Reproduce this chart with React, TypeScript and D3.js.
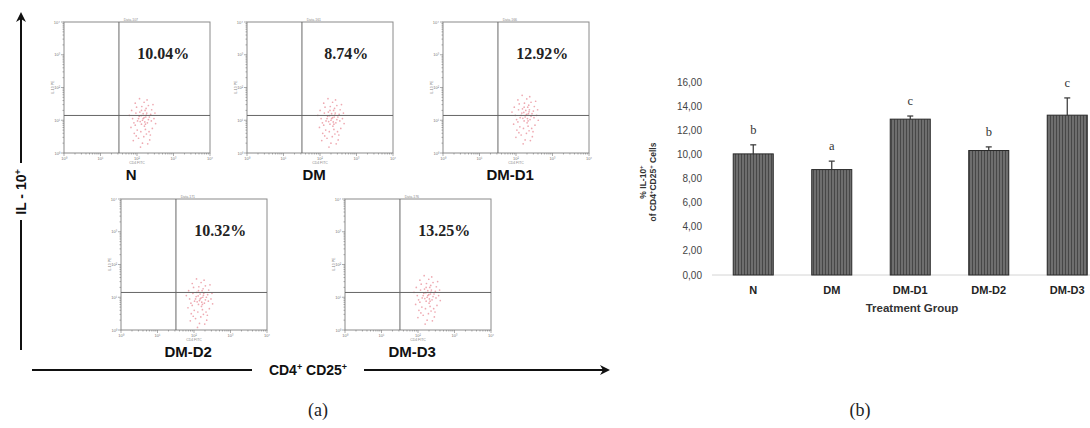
import { useEffect, useRef } from "react";
import * as d3 from "d3";

// flow cytometry panels (a)
const panelNames = ["N", "DM", "DM-D1", "DM-D2", "DM-D3"];
const panelPercents = ["10.04%", "8.74%", "12.92%", "10.32%", "13.25%"];
const panelTitles = ["Data.107", "Data.161", "Data.166", "Data.171", "Data.176"];
// cluster centre in log10 units (CD4CD25, IL-10)
const clusterX = [2.15, 2.3, 2.25, 2.15, 2.25];
const clusterY = [1.0, 1.0, 1.1, 0.9, 1.0];
const gateX = 32;
const gateY = 14;
// hand-read spread of events around each cluster centre (log10 units)
const dotOffsets: [number, number][] = [
  [0.02, 0.05], [-0.1, 0.12], [0.15, -0.08], [-0.22, -0.15], [0.08, 0.3],
  [0.25, 0.18], [-0.05, -0.35], [0.12, -0.42], [-0.18, 0.4], [0.3, -0.25],
  [-0.3, 0.05], [0.05, 0.55], [0.18, 0.45], [-0.12, -0.55], [0.0, -0.7],
  [0.22, -0.6], [-0.25, -0.4], [0.35, 0.05], [-0.08, 0.25], [0.1, 0.1],
  [-0.15, -0.02], [0.28, 0.32], [-0.35, -0.22], [0.06, -0.18], [-0.02, 0.42],
  [0.14, 0.62], [-0.2, 0.22], [0.4, -0.1], [-0.4, 0.15], [0.2, -0.35],
  [-0.06, -0.82], [0.09, -0.28], [-0.28, -0.62], [0.32, 0.48], [0.02, 0.2],
  [-0.12, 0.05], [0.18, 0.02], [-0.03, -0.12], [0.24, -0.45], [-0.16, -0.3],
  [0.11, 0.36], [-0.22, 0.52], [0.04, -0.5], [0.27, -0.02], [-0.33, 0.3],
  [0.16, -0.72], [-0.09, 0.66], [0.38, 0.22], [-0.26, -0.08], [0.0, 0.0],
  [0.07, -0.05], [-0.04, 0.14], [0.13, 0.22], [-0.19, -0.48], [0.21, 0.1],
  [0.05, 0.08], [-0.07, -0.04], [0.12, 0.16], [-0.03, 0.3], [0.09, -0.12],
];
const flowTicks = ["10⁰", "10¹", "10²", "10³", "10⁴"];

// bar chart (b)
const groups = ["N", "DM", "DM-D1", "DM-D2", "DM-D3"];
const il10Means = [10.04, 8.74, 12.92, 10.32, 13.25];
const il10Errors = [0.75, 0.7, 0.26, 0.3, 1.43];
const sigLetters = ["b", "a", "c", "b", "c"];
const yTicks = [0, 2, 4, 6, 8, 10, 12, 14, 16];

// panel layout: left, top
const panelPos: [number, number][] = [
  [64, 22],
  [247, 22],
  [443, 22],
  [121, 199],
  [345, 199],
];

export default function App() {
  const svgRef = useRef<SVGSVGElement>(null);

  useEffect(() => {
    const svg = d3.select(svgRef.current);
    svg.selectAll("*").remove();
    const sans = "Liberation Sans, Arial, sans-serif";
    const serif = "Liberation Serif, Times New Roman, serif";

    // ---- flow panels ----
    const pw = 146;
    const ph = 131;
    panelNames.forEach((name, i) => {
      const [left, top] = panelPos[i];
      const g = svg.append("g");
      const x = d3.scaleLog().domain([1, 10000]).range([left, left + pw]);
      const y = d3.scaleLog().domain([1, 10000]).range([top + ph, top]);

      g.append("rect")
        .attr("x", left)
        .attr("y", top)
        .attr("width", pw)
        .attr("height", ph)
        .attr("fill", "#fff")
        .attr("stroke", "#8a8a8a")
        .attr("stroke-width", 1);

      // minor/major ticks
      const ticks = x.ticks();
      ticks.forEach((t) => {
        const major = Math.log10(t) % 1 === 0;
        const len = major ? 3 : 1.5;
        g.append("line")
          .attr("x1", x(t)).attr("x2", x(t))
          .attr("y1", top + ph).attr("y2", top + ph + len)
          .attr("stroke", "#777").attr("stroke-width", 0.6);
        g.append("line")
          .attr("y1", y(t)).attr("y2", y(t))
          .attr("x1", left).attr("x2", left - len)
          .attr("stroke", "#777").attr("stroke-width", 0.6);
      });
      flowTicks.forEach((lab, k) => {
        g.append("text")
          .attr("x", x(Math.pow(10, k)))
          .attr("y", top + ph + 7)
          .attr("text-anchor", "middle")
          .attr("font-size", 4)
          .attr("fill", "#777")
          .attr("font-family", sans)
          .text(lab);
        g.append("text")
          .attr("x", left - 4)
          .attr("y", y(Math.pow(10, k)) + 1.5)
          .attr("text-anchor", "end")
          .attr("font-size", 4)
          .attr("fill", "#777")
          .attr("font-family", sans)
          .text(lab);
      });
      g.append("text")
        .attr("x", x(100))
        .attr("y", top + ph + 11)
        .attr("text-anchor", "middle")
        .attr("font-size", 3.5)
        .attr("fill", "#888")
        .attr("font-family", sans)
        .text("CD4 FITC");
      g.append("text")
        .attr("transform", `translate(${left - 10},${y(100)}) rotate(-90)`)
        .attr("text-anchor", "middle")
        .attr("font-size", 3.5)
        .attr("fill", "#888")
        .attr("font-family", sans)
        .text("IL-10 PE");
      g.append("text")
        .attr("x", x(gateX) + 12)
        .attr("y", top - 1.5)
        .attr("text-anchor", "middle")
        .attr("font-size", 3.5)
        .attr("fill", "#888")
        .attr("font-family", sans)
        .text(panelTitles[i]);

      // events
      g.append("g")
        .selectAll("circle")
        .data(dotOffsets)
        .join("circle")
        .attr("cx", (d) => x(Math.pow(10, clusterX[i] + d[0] * 0.9)))
        .attr("cy", (d) => y(Math.pow(10, clusterY[i] + d[1])))
        .attr("r", 0.85)
        .attr("fill", "#e36f7d")
        .attr("opacity", 0.6);

      // gates
      g.append("line")
        .attr("x1", x(gateX)).attr("x2", x(gateX))
        .attr("y1", top).attr("y2", top + ph)
        .attr("stroke", "#666").attr("stroke-width", 1);
      g.append("line")
        .attr("x1", left).attr("x2", left + pw)
        .attr("y1", y(gateY)).attr("y2", y(gateY))
        .attr("stroke", "#666").attr("stroke-width", 1);

      g.append("text")
        .attr("x", left + pw * 0.68)
        .attr("y", top + 37)
        .attr("text-anchor", "middle")
        .attr("font-family", serif)
        .attr("font-weight", "bold")
        .attr("font-size", 16)
        .attr("fill", "#222")
        .text(panelPercents[i]);

      g.append("text")
        .attr("x", left + pw * 0.46)
        .attr("y", top + ph + 27)
        .attr("text-anchor", "middle")
        .attr("font-family", sans)
        .attr("font-weight", "bold")
        .attr("font-size", 15)
        .attr("fill", "#111")
        .text(name);
    });

    // arrows
    const defs = svg.append("defs");
    defs
      .append("marker")
      .attr("id", "arr")
      .attr("viewBox", "0 0 10 10")
      .attr("refX", 8)
      .attr("refY", 5)
      .attr("markerWidth", 5)
      .attr("markerHeight", 5)
      .attr("orient", "auto")
      .append("path")
      .attr("d", "M0,0 L10,5 L0,10 L3,5 Z")
      .attr("fill", "#111");

    svg.append("line")
      .attr("x1", 32).attr("x2", 252).attr("y1", 370).attr("y2", 370)
      .attr("stroke", "#111").attr("stroke-width", 2);
    svg.append("line")
      .attr("x1", 364).attr("x2", 608).attr("y1", 370).attr("y2", 370)
      .attr("stroke", "#111").attr("stroke-width", 2)
      .attr("marker-end", "url(#arr)");
    const cd = svg.append("text")
      .attr("x", 308).attr("y", 375)
      .attr("text-anchor", "middle")
      .attr("font-family", sans).attr("font-weight", "bold")
      .attr("font-size", 14).attr("fill", "#111");
    cd.append("tspan").text("CD4");
    cd.append("tspan").attr("dy", -5).attr("font-size", 9).text("+");
    cd.append("tspan").attr("dy", 5).text(" CD25");
    cd.append("tspan").attr("dy", -5).attr("font-size", 9).text("+");

    svg.append("line")
      .attr("x1", 21).attr("x2", 21).attr("y1", 350).attr("y2", 220)
      .attr("stroke", "#111").attr("stroke-width", 2);
    svg.append("line")
      .attr("x1", 21).attr("x2", 21).attr("y1", 163).attr("y2", 14)
      .attr("stroke", "#111").attr("stroke-width", 2)
      .attr("marker-end", "url(#arr)");
    const il = svg.append("text")
      .attr("transform", "translate(26,192) rotate(-90)")
      .attr("text-anchor", "middle")
      .attr("font-family", sans).attr("font-weight", "bold")
      .attr("font-size", 14).attr("fill", "#111");
    il.append("tspan").text("IL - 10");
    il.append("tspan").attr("dy", -5).attr("font-size", 9).text("+");

    svg.append("text")
      .attr("x", 318).attr("y", 416)
      .attr("text-anchor", "middle")
      .attr("font-family", serif).attr("font-size", 18).attr("fill", "#222")
      .text("(a)");
    svg.append("text")
      .attr("x", 860).attr("y", 416)
      .attr("text-anchor", "middle")
      .attr("font-family", serif).attr("font-size", 18).attr("fill", "#222")
      .text("(b)");

    // ---- bar chart ----
    const xb = d3.scaleBand<string>()
      .domain(groups)
      .range([714, 1106.5])
      .paddingInner(0.49)
      .paddingOuter(0.245);
    const yb = d3.scaleLinear().domain([0, 16]).range([275, 82]);
    const fmt = d3.formatLocale({
      decimal: ",",
      thousands: ".",
      grouping: [3],
      currency: ["", ""],
    }).format(".2f");

    const pat = defs
      .append("pattern")
      .attr("id", "stripes")
      .attr("patternUnits", "userSpaceOnUse")
      .attr("width", 3)
      .attr("height", 10);
    pat.append("rect").attr("width", 3).attr("height", 10).attr("fill", "#6e6e6e");
    pat.append("rect").attr("width", 1).attr("height", 10).attr("fill", "#474747");

    const gb = svg.append("g");
    gb.append("line")
      .attr("x1", 712).attr("x2", 1090)
      .attr("y1", yb(0)).attr("y2", yb(0))
      .attr("stroke", "#d4d4d4").attr("stroke-width", 1);

    gb.selectAll("text.ytick")
      .data(yTicks)
      .join("text")
      .attr("class", "ytick")
      .attr("x", 702)
      .attr("y", (d) => yb(d) + 3.5)
      .attr("text-anchor", "end")
      .attr("font-family", sans)
      .attr("font-size", 10)
      .attr("fill", "#444")
      .text((d) => fmt(d));

    gb.selectAll("rect.bar")
      .data(groups)
      .join("rect")
      .attr("class", "bar")
      .attr("x", (d) => xb(d)!)
      .attr("y", (_, i) => yb(il10Means[i]))
      .attr("width", xb.bandwidth())
      .attr("height", (_, i) => yb(0) - yb(il10Means[i]))
      .attr("fill", "url(#stripes)")
      .attr("stroke", "#2a2a2a")
      .attr("stroke-width", 1);

    groups.forEach((gname, i) => {
      const cx = xb(gname)! + xb.bandwidth() / 2;
      const top = yb(il10Means[i] + il10Errors[i]);
      gb.append("line")
        .attr("x1", cx).attr("x2", cx)
        .attr("y1", yb(il10Means[i])).attr("y2", top)
        .attr("stroke", "#333").attr("stroke-width", 1.2);
      gb.append("line")
        .attr("x1", cx - 3).attr("x2", cx + 3)
        .attr("y1", top).attr("y2", top)
        .attr("stroke", "#333").attr("stroke-width", 1.2);
      gb.append("text")
        .attr("x", cx)
        .attr("y", top - 11)
        .attr("text-anchor", "middle")
        .attr("font-family", serif)
        .attr("font-size", 12.5)
        .attr("fill", "#333")
        .text(sigLetters[i]);
      gb.append("text")
        .attr("x", cx)
        .attr("y", 294)
        .attr("text-anchor", "middle")
        .attr("font-family", sans)
        .attr("font-weight", "bold")
        .attr("font-size", 11)
        .attr("fill", "#222")
        .text(gname);
    });

    gb.append("text")
      .attr("x", 912)
      .attr("y", 312)
      .attr("text-anchor", "middle")
      .attr("font-family", sans)
      .attr("font-weight", "bold")
      .attr("font-size", 11.5)
      .attr("fill", "#333")
      .text("Treatment Group");

    const yt1 = gb.append("text")
      .attr("transform", "translate(646,182) rotate(-90)")
      .attr("text-anchor", "middle")
      .attr("font-family", sans)
      .attr("font-weight", "bold")
      .attr("font-size", 8.5)
      .attr("fill", "#333");
    yt1.append("tspan").text("% IL-10");
    yt1.append("tspan").attr("dy", -3).attr("font-size", 6).text("+");
    const yt2 = gb.append("text")
      .attr("transform", "translate(656,182) rotate(-90)")
      .attr("text-anchor", "middle")
      .attr("font-family", sans)
      .attr("font-weight", "bold")
      .attr("font-size", 8.5)
      .attr("fill", "#333");
    yt2.append("tspan").text("of CD4");
    yt2.append("tspan").attr("dy", -3).attr("font-size", 6).text("+");
    yt2.append("tspan").attr("dy", 3).text("CD25");
    yt2.append("tspan").attr("dy", -3).attr("font-size", 6).text("+");
    yt2.append("tspan").attr("dy", 3).text(" Cells");
  }, []);

  return (
    <svg
      ref={svgRef}
      width={1090}
      height={428}
      style={{ position: "absolute", left: 0, top: 0, background: "#fff" }}
    />
  );
}
